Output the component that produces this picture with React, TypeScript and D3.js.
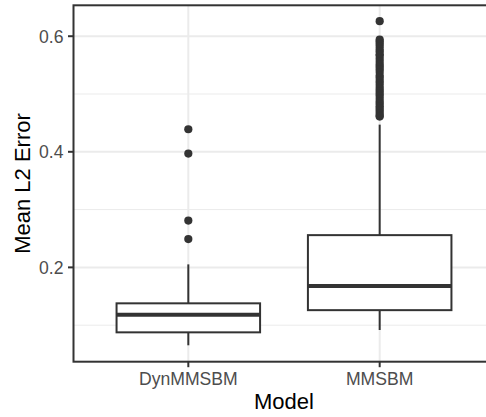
import React from "react";
import * as d3 from "d3";

const categories = ["DynMMSBM", "MMSBM"];
const q1 = [0.0876, 0.126];
const medians = [0.118, 0.168];
const q3 = [0.1378, 0.2558];
const whiskerLow = [0.0652, 0.0916];
const whiskerHigh = [0.2052, 0.447];
const outliersDyn = [0.439, 0.397, 0.281, 0.249];
const outliersMM = [
  0.626, 0.594, 0.591, 0.587, 0.583, 0.578, 0.574, 0.569, 0.566, 0.561, 0.556,
  0.551, 0.547, 0.543, 0.538, 0.532, 0.528, 0.523, 0.519, 0.514, 0.509, 0.505,
  0.501, 0.497, 0.492, 0.487, 0.483, 0.479, 0.475, 0.471, 0.467, 0.463, 0.461,
];
const outliers = [outliersDyn, outliersMM];
const yTicks = [0.2, 0.4, 0.6];
const yMinorTicks = [0.1, 0.3, 0.5];

const W = 486;
const H = 417;
const panel = { left: 73.5, right: 494.5, top: 5.3, bottom: 361.7 };

export default function App() {
  const x = d3
    .scalePoint<string>()
    .domain(categories)
    .range([panel.left, panel.right])
    .padding(0.6);
  const y = d3
    .scaleLinear()
    .domain([0.0368, 0.6535])
    .range([panel.bottom, panel.top]);
  const step = x.step();
  const boxW = step * 0.75;
  const font = "'Liberation Sans', Arial, Helvetica, sans-serif";
  const dark = "#333333";

  return (
    <svg
      width={W}
      height={H}
      style={{ position: "absolute", left: 0, top: 0, background: "#fff" }}
      fontFamily={font}
    >
      <defs>
        <clipPath id="clip">
          <rect x={0} y={0} width={W} height={H} />
        </clipPath>
      </defs>
      <rect x={0} y={0} width={W} height={H} fill="#fff" />
      {/* minor grid */}
      {yMinorTicks.map((t) => (
        <line
          key={"m" + t}
          x1={panel.left}
          x2={panel.right}
          y1={y(t)}
          y2={y(t)}
          stroke="#EBEBEB"
          strokeWidth={1}
        />
      ))}
      {/* major grid */}
      {yTicks.map((t) => (
        <line
          key={"g" + t}
          x1={panel.left}
          x2={panel.right}
          y1={y(t)}
          y2={y(t)}
          stroke="#EBEBEB"
          strokeWidth={2}
        />
      ))}
      {categories.map((c) => (
        <line
          key={"vg" + c}
          x1={x(c)}
          x2={x(c)}
          y1={panel.top}
          y2={panel.bottom}
          stroke="#EBEBEB"
          strokeWidth={2}
        />
      ))}
      {/* boxes */}
      {categories.map((c, i) => {
        const cx = x(c) as number;
        return (
          <g key={"b" + c}>
            <line
              x1={cx}
              x2={cx}
              y1={y(q3[i])}
              y2={y(whiskerHigh[i])}
              stroke={dark}
              strokeWidth={2}
            />
            <line
              x1={cx}
              x2={cx}
              y1={y(q1[i])}
              y2={y(whiskerLow[i])}
              stroke={dark}
              strokeWidth={2}
            />
            <rect
              x={cx - boxW / 2}
              y={y(q3[i])}
              width={boxW}
              height={y(q1[i]) - y(q3[i])}
              fill="#fff"
              stroke={dark}
              strokeWidth={2}
            />
            <line
              x1={cx - boxW / 2}
              x2={cx + boxW / 2}
              y1={y(medians[i])}
              y2={y(medians[i])}
              stroke={dark}
              strokeWidth={4}
            />
            {outliers[i].map((v, j) => (
              <circle key={j} cx={cx} cy={y(v)} r={4.1} fill={dark} />
            ))}
          </g>
        );
      })}
      {/* panel border */}
      <rect
        x={panel.left}
        y={panel.top}
        width={panel.right - panel.left}
        height={panel.bottom - panel.top}
        fill="none"
        stroke={dark}
        strokeWidth={2}
      />
      {/* y axis ticks */}
      {yTicks.map((t) => (
        <g key={"yt" + t}>
          <line
            x1={panel.left - 5.5}
            x2={panel.left}
            y1={y(t)}
            y2={y(t)}
            stroke={dark}
            strokeWidth={2}
          />
          <text
            x={panel.left - 10}
            y={y(t)}
            dy="0.36em"
            textAnchor="end"
            fontSize={17.6}
            fill="#4D4D4D"
          >
            {t.toFixed(1)}
          </text>
        </g>
      ))}
      {/* x axis ticks */}
      {categories.map((c) => (
        <g key={"xt" + c}>
          <line
            x1={x(c)}
            x2={x(c)}
            y1={panel.bottom}
            y2={panel.bottom + 5.5}
            stroke={dark}
            strokeWidth={2}
          />
          <text
            x={x(c)}
            y={385}
            textAnchor="middle"
            fontSize={17.6}
            fill="#4D4D4D"
          >
            {c}
          </text>
        </g>
      ))}
      <text
        x={(panel.left + panel.right) / 2}
        y={409}
        textAnchor="middle"
        fontSize={22}
        fill="#000"
      >
        Model
      </text>
      <text
        transform={`translate(29.5, ${(panel.top + panel.bottom) / 2}) rotate(-90)`}
        textAnchor="middle"
        fontSize={22}
        fill="#000"
      >
        Mean L2 Error
      </text>
    </svg>
  );
}
